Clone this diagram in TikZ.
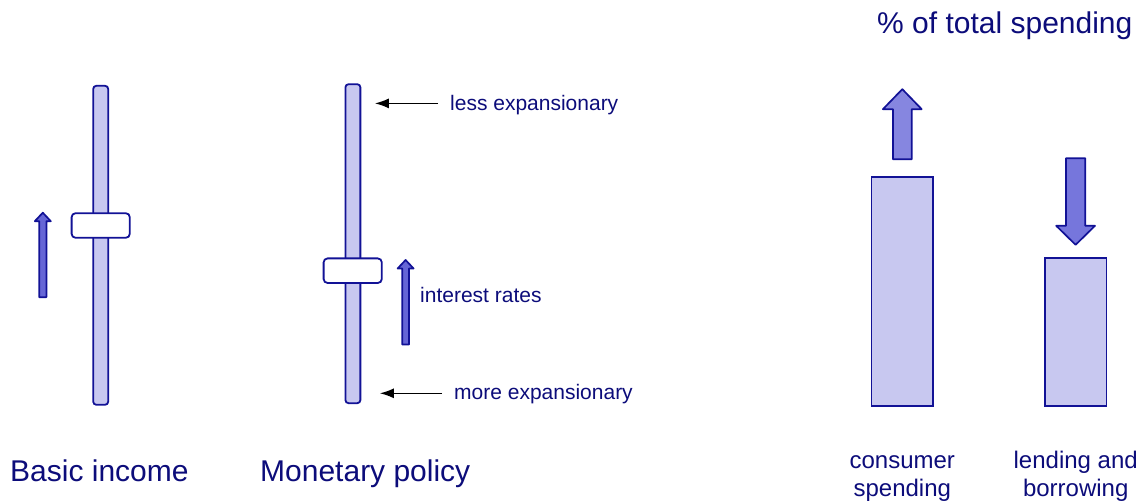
\documentclass[tikz,border=0pt]{standalone}
\usepackage{fontspec}
\setmainfont{Liberation Sans}
\usetikzlibrary{positioning,arrows.meta,calc}
\definecolor{sliderNavy}{RGB}{18,18,150}
\definecolor{textNavy}{RGB}{12,12,122}
\definecolor{paleLilac}{RGB}{200,200,240}
\definecolor{midLilac}{RGB}{134,134,224}
\definecolor{deepLilac}{RGB}{118,118,220}
\definecolor{darkLilac}{RGB}{102,102,214}
\tikzset{
	track/.style={
		draw=sliderNavy,
		fill=paleLilac,
		line width=1.8pt,
		rounded corners=3pt,
		minimum width=14.9pt,
		minimum height=318.9pt,
		inner sep=0pt,
	},
	knob/.style={
		draw=sliderNavy,
		fill=white,
		line width=1.8pt,
		rounded corners=4pt,
		minimum width=58.2pt,
		minimum height=24.6pt,
		inner sep=0pt,
	},
	spendbar/.style={
		draw=sliderNavy,
		fill=paleLilac,
		line width=1.8pt,
		minimum width=61.5pt,
		inner sep=0pt,
	},
	blockarrow/.style={
		draw=sliderNavy,
		fill=midLilac,
		line width=1.7pt,
		line join=round,
	},
	pointer/.style={
		-{Latex[length=14pt,width=10pt]},
		line width=1.4pt,
		draw=black,
	},
	sidenote/.style={text=textNavy, font=\fontsize{21}{25}\selectfont, inner sep=0pt, anchor=base west},
	heading/.style={text=textNavy, font=\fontsize{30}{36}\selectfont, inner sep=0pt, anchor=base west},
	barlabel/.style={text=textNavy, font=\fontsize{24}{28}\selectfont, align=center, inner sep=0pt}
}
% thick up arrow: [style]{tail}{length}{half shaft}{half head}{head length}
\newcommand{\blockarr}[6][]{%
	\filldraw[blockarrow,shift={#2},#1] (-#4,0) -- (-#4,-#3+#6) -- (-#5,-#3+#6) -- (0,-#3)
		-- (#5,-#3+#6) -- (#4,-#3+#6) -- (#4,0) -- cycle;}

\begin{document}
\begin{tikzpicture}[x=1pt, y=-1pt]
	\useasboundingbox (0,0) rectangle (1145,502);

	% --- Sliders ---
	\node[track] (basictrack) at (100.7,245.3) {};
	\node[knob] (basicknob) at (100.7,225.5) {};
	\node[track] (monettrack) at (352.9,243.7) {};
	\node[knob] (monetknob) at (352.7,270.7) {};

	\blockarr[fill=darkLilac]{(42.8,297.2)}{84.5}{3.6}{8}{8.5}
	\blockarr[fill=darkLilac]{(405.6,344.5)}{84.5}{3.4}{8}{8.5}

	% --- Notes beside the policy slider ---
	\node[sidenote] (lessnote) at (450,111) {less expansionary};
	\node[sidenote] (ratenote) at (420,303) {interest rates};
	\node[sidenote] (morenote) at (454,399.5) {more expansionary};

	\draw[pointer, shorten >=13.6pt] ([xshift=-12pt,yshift=7.6pt]lessnote.base west) coordinate (lesstail)
		-- (lesstail -| monettrack.east);
	\draw[pointer, shorten >=18.6pt] ([xshift=-12pt,yshift=6.2pt]morenote.base west) coordinate (moretail)
		-- (moretail -| monettrack.east);

	% --- Spending shares ---
	\node[spendbar, minimum height=228.9pt] (consbar) at (902.3,291.3) {};
	\node[spendbar, minimum height=147.6pt] (lendbar) at (1075.7,332) {};

	\blockarr{(902.3,159.2)}{70}{9.4}{19.4}{20}
	\blockarr[yscale=-1, fill=deepLilac]{(1075.6,158.2)}{86.6}{9.6}{19.4}{19}

	\node[barlabel, below=42pt of consbar] (conslabel) {\strut consumer\\spending};
	\node[barlabel, below=42pt of lendbar] (lendlabel) {\strut lending and\\borrowing};

	% --- Headings ---
	\node[heading] (basiclabel) at (10,481.5) {Basic income};
	\node[heading] (monetlabel) at (260,481.5) {Monetary policy};
	\node[heading] (sharelabel) at (877,33.3) {\% of total spending};
\end{tikzpicture}
\end{document}
